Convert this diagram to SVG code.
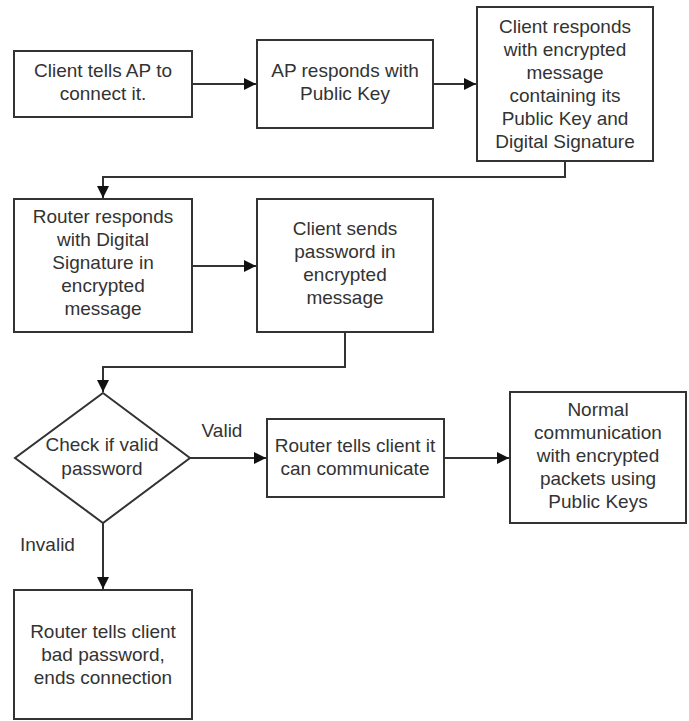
<svg xmlns="http://www.w3.org/2000/svg" width="689" height="721" viewBox="0 0 689 721">
<defs>
<style>
.box{fill:#fff;stroke:#333;stroke-width:2}
.t{font-family:"Liberation Sans",Arial,sans-serif;font-size:19px;fill:#333;text-anchor:middle}
.lbl{font-family:"Liberation Sans",Arial,sans-serif;font-size:19px;fill:#333}
.c{fill:none;stroke:#333;stroke-width:2}
</style>
<marker id="ah" markerUnits="userSpaceOnUse" markerWidth="14" markerHeight="12" refX="12" refY="6" orient="auto">
<path d="M0,0 L12,6 L0,12 Z" fill="#111"/>
</marker>
</defs>
<rect width="689" height="721" fill="#fff"/>
<g id="connectors">
<path class="c" d="M192,84 H256" marker-end="url(#ah)"/>
<path class="c" d="M433,84 H476" marker-end="url(#ah)"/>
<path class="c" d="M565,161 V177 H103 V198" marker-end="url(#ah)"/>
<path class="c" d="M192,266 H256" marker-end="url(#ah)"/>
<path class="c" d="M345,332 V367 H103 V392" marker-end="url(#ah)"/>
<path class="c" d="M190,458 H266" marker-end="url(#ah)"/>
<path class="c" d="M444,458 H509" marker-end="url(#ah)"/>
<path class="c" d="M103,523 V589" marker-end="url(#ah)"/>
<text class="lbl" x="222" y="437" text-anchor="middle">Valid</text>
<text class="lbl" x="20" y="551">Invalid</text>
</g>
<g id="n1">
<rect class="box" x="14" y="51" width="178" height="66"/>
<text class="t" x="103" y="77">Client tells AP to</text>
<text class="t" x="103" y="100">connect it.</text>
</g>
<g id="n2">
<rect class="box" x="257" y="40" width="176" height="88"/>
<text class="t" x="345" y="77">AP responds with</text>
<text class="t" x="345" y="100">Public Key</text>
</g>
<g id="n3">
<rect class="box" x="477" y="7" width="176" height="154"/>
<text class="t" x="565" y="33">Client responds</text>
<text class="t" x="565" y="56">with encrypted</text>
<text class="t" x="565" y="79">message</text>
<text class="t" x="565" y="102">containing its</text>
<text class="t" x="565" y="125">Public Key and</text>
<text class="t" x="565" y="148">Digital Signature</text>
</g>
<g id="n4">
<rect class="box" x="14" y="199" width="178" height="133"/>
<text class="t" x="103" y="223">Router responds</text>
<text class="t" x="103" y="246">with Digital</text>
<text class="t" x="103" y="269">Signature in</text>
<text class="t" x="103" y="292">encrypted</text>
<text class="t" x="103" y="315">message</text>
</g>
<g id="n5">
<rect class="box" x="257" y="199" width="176" height="133"/>
<text class="t" x="345" y="235">Client sends</text>
<text class="t" x="345" y="258">password in</text>
<text class="t" x="345" y="281">encrypted</text>
<text class="t" x="345" y="304">message</text>
</g>
<g id="n6">
<polygon class="box" points="103,393 190,458 103,523 15,458"/>
<text class="t" x="102" y="451">Check if valid</text>
<text class="t" x="102" y="475">password</text>
</g>
<g id="n7">
<rect class="box" x="267" y="419" width="177" height="78"/>
<text class="t" x="355" y="452">Router tells client it</text>
<text class="t" x="355" y="475">can communicate</text>
</g>
<g id="n8">
<rect class="box" x="510" y="392" width="176" height="131"/>
<text class="t" x="598" y="416">Normal</text>
<text class="t" x="598" y="439">communication</text>
<text class="t" x="598" y="462">with encrypted</text>
<text class="t" x="598" y="485">packets using</text>
<text class="t" x="598" y="508">Public Keys</text>
</g>
<g id="n9">
<rect class="box" x="14" y="590" width="178" height="129"/>
<text class="t" x="103" y="638">Router tells client</text>
<text class="t" x="103" y="661">bad password,</text>
<text class="t" x="103" y="684">ends connection</text>
</g>
</svg>
